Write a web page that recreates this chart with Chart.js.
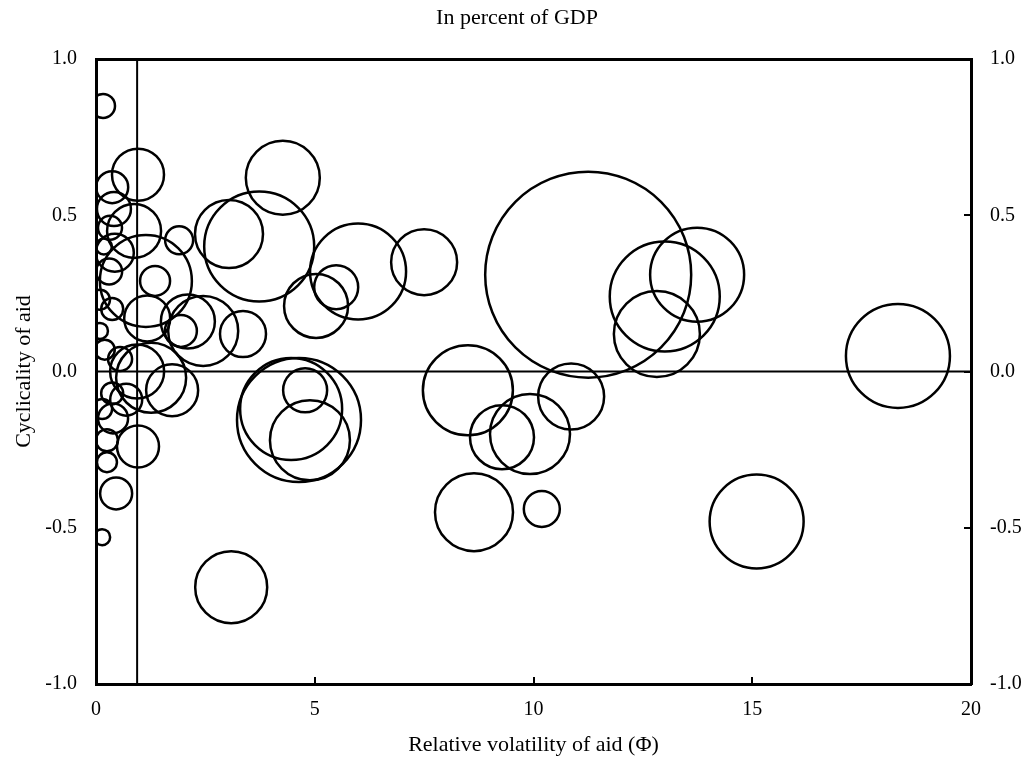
<!DOCTYPE html>
<html>
<head>
<meta charset="utf-8">
<script src="https://cdn.jsdelivr.net/npm/chart.js@4"></script>
<style>
  body { margin: 0; background: #fff; }
  #cadre { width: 1034px; height: 770px; }
</style>
</head>
<body>
<div id="cadre"><canvas id="bulles"></canvas></div>
<script>
// une bulle par pays : volatilité relative, cyclicité, taille (aide en % du PIB)
var volatilite = [0.16, 0.37, 0.41, 0.32, 0.87, 0.96, 0.30, 1.14, 0.43, 1.35,
                  0.37, 1.17, 2.10, 1.94, 2.45, 3.36, 1.26, 1.74, 0.39, 0.37,
                  0.94, 0.25, 0.96, 0.25, 0.46, 0.14, 0.09, 0.20, 0.09, 0.18,
                  0.69, 0.14, 0.55, 1.90, 4.27, 3.04, 3.73, 5.03, 5.49, 5.99,
                  7.50, 4.64, 4.46, 4.78, 4.89, 3.09, 11.25, 13.74, 13.00, 12.82,
                  18.33, 15.10, 8.50, 8.64, 10.19, 10.86, 9.92, 9.28];
var cyclicite  = [0.85, 0.59, 0.52, 0.46, 0.45, 0.63, 0.32, 0.29, 0.38, 0.29,
                  0.20, 0.17, 0.16, 0.13, 0.13, 0.12, -0.02, -0.06, -0.15, -0.07,
                  0.00, -0.22, -0.24, -0.29, -0.39, -0.53, 0.13, 0.07, 0.23, 0.40,
                  -0.09, -0.12, 0.04, 0.42, 0.62, 0.44, 0.40, 0.21, 0.27, 0.32,
                  0.35, -0.155, -0.12, -0.06, -0.22, -0.69, 0.31, 0.31, 0.24, 0.12,
                  0.05, -0.48, -0.06, -0.45, -0.44, -0.08, -0.20, -0.21];
var taille     = [12, 16, 17, 12, 27, 26, 13, 46, 19, 15,
                  11, 23, 27, 16, 35, 23, 35, 26, 15, 11,
                  27, 11, 21, 10, 16, 8, 8, 10, 10, 8,
                  16, 10, 12, 14, 37, 34, 55, 32, 22, 48,
                  33, 62, 51, 22, 40, 36, 103, 47, 55, 43,
                  52, 47, 45, 39, 18, 33, 40, 32];

var ticksX = [0, 5, 10, 15, 20];
var ticksY = [-1, -0.5, 0, 0.5, 1];
var seuilVolatilite = 0.94;

Chart.defaults.font.family = "'Liberation Serif', 'Times New Roman', serif";
Chart.defaults.color = "#000";

var points = volatilite.map(function(v, i) {
  return { x: v, y: cyclicite[i], r: taille[i] };
});

function poserTicks(liste) {
  return function(scale) {
    scale.ticks = liste.map(function(v) { return { value: v }; });
  };
}

new Chart(document.getElementById("bulles"), {
  type: "bubble",
  data: {
    datasets: [
      {
        data: points,
        backgroundColor: "rgba(0,0,0,0)",
        borderColor: "#000",
        borderWidth: 2.5,
        clip: 0,
        order: 1
      },
      {
        type: "line",
        data: [{ x: ticksX[0], y: 0 }, { x: ticksX[ticksX.length - 1], y: 0 }],
        borderColor: "#000",
        borderWidth: 2,
        pointRadius: 0,
        order: 2
      },
      {
        type: "line",
        data: [{ x: seuilVolatilite, y: ticksY[0] }, { x: seuilVolatilite, y: ticksY[ticksY.length - 1] }],
        borderColor: "#000",
        borderWidth: 2,
        pointRadius: 0,
        order: 2
      }
    ]
  },
  options: {
    responsive: true,
    maintainAspectRatio: false,
    animation: false,
    events: [],
    layout: { padding: 0, autoPadding: false },
    plugins: {
      legend: { display: false },
      tooltip: { enabled: false },
      title: {
        display: true,
        text: "In percent of GDP",
        color: "#000",
        font: { size: 22, weight: "normal" },
        padding: { top: 5, bottom: 27.6 }
      }
    },
    scales: {
      x: {
        type: "linear",
        position: "bottom",
        min: 0,
        max: 20,
        afterBuildTicks: poserTicks(ticksX),
        afterFit: function(s) { s.height = 86; },
        grid: { drawOnChartArea: false, tickLength: -7, color: "#000", lineWidth: 2 },
        border: { color: "#000", width: 3 },
        ticks: { padding: 21, font: { size: 20 }, maxRotation: 0 },
        title: {
          display: true,
          text: "Relative volatility of aid (\u03A6)",
          font: { size: 22 },
          padding: { top: 0, bottom: 12 }
        }
      },
      xHaut: {
        type: "linear",
        position: "top",
        min: 0,
        max: 20,
        afterFit: function(s) { s.height = 0; },
        grid: { display: false, drawTicks: false },
        border: { color: "#000", width: 3 },
        ticks: { display: false }
      },
      y: {
        type: "linear",
        position: "left",
        min: -1,
        max: 1,
        afterBuildTicks: poserTicks(ticksY),
        afterFit: function(s) { s.width = 96; },
        grid: { display: false, drawTicks: false },
        border: { color: "#000", width: 3 },
        ticks: {
          padding: 19,
          font: { size: 20 },
          callback: function(v) { return v.toFixed(1); }
        },
        title: {
          display: true,
          text: "Cyclicality of aid",
          font: { size: 22 },
          padding: { top: 11, bottom: 0 }
        }
      },
      yDroite: {
        type: "linear",
        position: "right",
        min: -1,
        max: 1,
        afterBuildTicks: poserTicks(ticksY),
        afterFit: function(s) { s.width = 63; },
        grid: { drawOnChartArea: false, tickLength: -7, color: "#000", lineWidth: 2 },
        border: { color: "#000", width: 3 },
        ticks: {
          padding: 26,
          font: { size: 20 },
          callback: function(v) { return v.toFixed(1); }
        }
      }
    }
  }
});
</script>
</body>
</html>
